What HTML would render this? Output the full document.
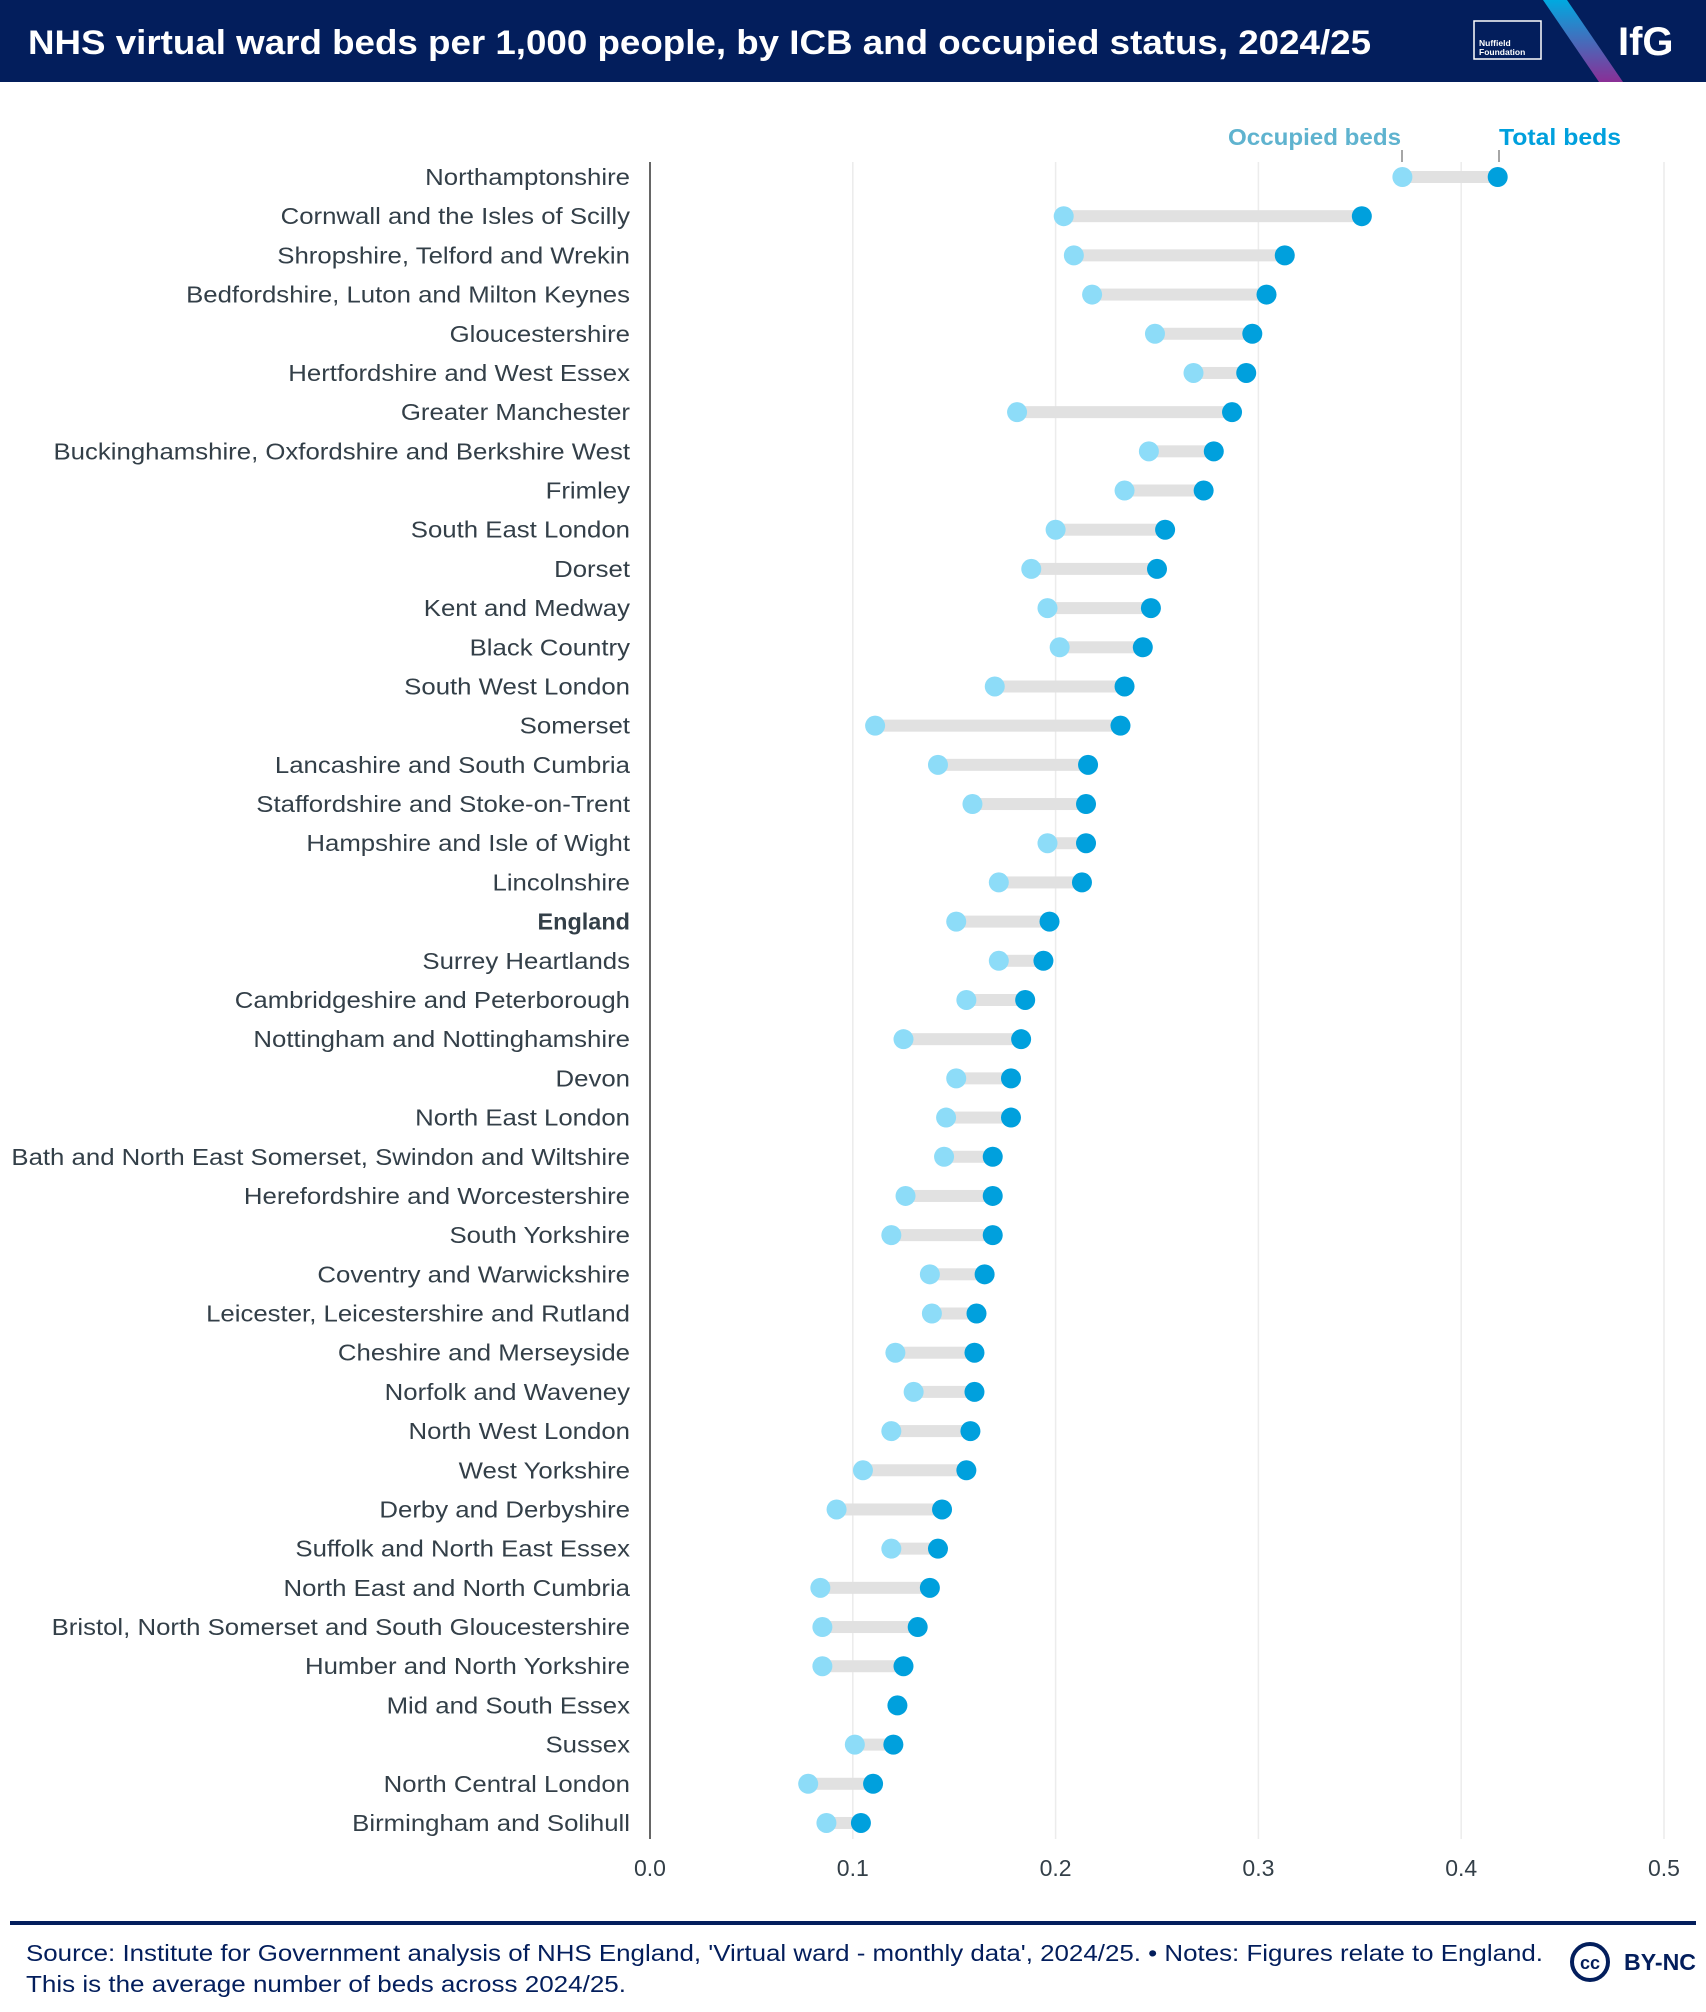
<!DOCTYPE html>
<html><head><meta charset="utf-8"><style>
html,body{margin:0;padding:0;background:#fff}
svg{display:block;font-family:"Liberation Sans","DejaVu Sans",sans-serif}
</style></head><body>
<svg id="chart" width="1706" height="2012" viewBox="0 0 1706 2012" xmlns="http://www.w3.org/2000/svg">
<defs><linearGradient id="stripe" x1="0" y1="0" x2="0" y2="1"><stop offset="0" stop-color="#00a9e0"/><stop offset="1" stop-color="#8a2f96"/></linearGradient></defs>
<rect x="0" y="0" width="1706" height="82" fill="#031e5c"/>
<text x="28" y="54" fill="#fff" font-size="34" font-weight="bold" textLength="1343" lengthAdjust="spacingAndGlyphs">NHS virtual ward beds per 1,000 people, by ICB and occupied status, 2024/25</text>
<g>
<rect x="1474" y="21" width="67" height="38" fill="none" stroke="#fff" stroke-width="1.5"/>
<text x="1479" y="46" fill="#fff" font-size="8.5" font-weight="bold">Nuffield</text>
<text x="1479" y="55" fill="#fff" font-size="8.5" font-weight="bold">Foundation</text>
</g>
<polygon points="1543,0 1567,0 1623,82 1599,82" fill="url(#stripe)"/>
<text x="1618" y="55" fill="#fff" font-size="40" font-weight="bold">IfG</text>
<text x="1401" y="145" text-anchor="end" fill="#5fb3cf" font-size="23" font-weight="bold" textLength="173" lengthAdjust="spacingAndGlyphs">Occupied beds</text>
<line x1="1402" y1="150" x2="1402" y2="162" stroke="#888" stroke-width="1.5"/>
<text x="1499" y="145" fill="#00a0dd" font-size="23" font-weight="bold" textLength="122" lengthAdjust="spacingAndGlyphs">Total beds</text>
<line x1="1499" y1="150" x2="1499" y2="162" stroke="#888" stroke-width="1.5"/>
<g id="grid"></g><g id="rows"></g><g id="xticks"></g>
<line x1="650" y1="162" x2="650" y2="1839" stroke="#333" stroke-width="1.5"/>
<rect x="10" y="1921" width="1686" height="4" fill="#031e5c"/>
<text x="26" y="1961" fill="#031e5c" font-size="23" textLength="1517" lengthAdjust="spacingAndGlyphs">Source: Institute for Government analysis of NHS England, 'Virtual ward - monthly data', 2024/25. • Notes: Figures relate to England.</text>
<text x="26" y="1992" fill="#031e5c" font-size="23" textLength="600" lengthAdjust="spacingAndGlyphs">This is the average number of beds across 2024/25.</text>
<g>
<circle cx="1590" cy="1962" r="18" fill="none" stroke="#031e5c" stroke-width="4"/>
<text x="1590" y="1969" text-anchor="middle" fill="#031e5c" font-size="18" font-weight="bold">cc</text>
<text x="1624" y="1970" fill="#031e5c" font-size="23" font-weight="bold" textLength="72" lengthAdjust="spacingAndGlyphs">BY-NC</text>
</g>
</svg>
<script>
const categories=["Northamptonshire","Cornwall and the Isles of Scilly","Shropshire, Telford and Wrekin","Bedfordshire, Luton and Milton Keynes","Gloucestershire","Hertfordshire and West Essex","Greater Manchester","Buckinghamshire, Oxfordshire and Berkshire West","Frimley","South East London","Dorset","Kent and Medway","Black Country","South West London","Somerset","Lancashire and South Cumbria","Staffordshire and Stoke-on-Trent","Hampshire and Isle of Wight","Lincolnshire","England","Surrey Heartlands","Cambridgeshire and Peterborough","Nottingham and Nottinghamshire","Devon","North East London","Bath and North East Somerset, Swindon and Wiltshire","Herefordshire and Worcestershire","South Yorkshire","Coventry and Warwickshire","Leicester, Leicestershire and Rutland","Cheshire and Merseyside","Norfolk and Waveney","North West London","West Yorkshire","Derby and Derbyshire","Suffolk and North East Essex","North East and North Cumbria","Bristol, North Somerset and South Gloucestershire","Humber and North Yorkshire","Mid and South Essex","Sussex","North Central London","Birmingham and Solihull"];
const occupied=[0.371,0.204,0.209,0.218,0.249,0.268,0.181,0.246,0.234,0.200,0.188,0.196,0.202,0.170,0.111,0.142,0.159,0.196,0.172,0.151,0.172,0.156,0.125,0.151,0.146,0.145,0.126,0.119,0.138,0.139,0.121,0.130,0.119,0.105,0.092,0.119,0.084,0.085,0.085,null,0.101,0.078,0.087];
const total=[0.418,0.351,0.313,0.304,0.297,0.294,0.287,0.278,0.273,0.254,0.250,0.247,0.243,0.234,0.232,0.216,0.215,0.215,0.213,0.197,0.194,0.185,0.183,0.178,0.178,0.169,0.169,0.169,0.165,0.161,0.160,0.160,0.158,0.156,0.144,0.142,0.138,0.132,0.125,0.122,0.120,0.110,0.104];
const ticks=[0,0.1,0.2,0.3,0.4,0.5];
const tickLabels=["0.0","0.1","0.2","0.3","0.4","0.5"];
const NS="http://www.w3.org/2000/svg";
const xScale=v=>650+v*2028;
const yScale=i=>177+i*39.19;
function mk(tag,attrs,parent){const e=document.createElementNS(NS,tag);for(const k in attrs)e.setAttribute(k,attrs[k]);parent.appendChild(e);return e;}
const grid=document.getElementById('grid'),rows=document.getElementById('rows'),xt=document.getElementById('xticks');
ticks.forEach((t,i)=>{
  if(i>0){const g=mk('line',{x1:xScale(t),x2:xScale(t),y1:162,y2:1839,stroke:'#ececec','stroke-width':1.5},grid);
  
  }
  const l=mk('text',{x:xScale(t),y:1876,'text-anchor':'middle','font-size':23,fill:'#333f48'},xt);
  l.textContent=tickLabels[i];
  
  
});
categories.forEach((c,i)=>{
  const y=yScale(i);
  const t=mk('text',{x:630,y:y+8,'text-anchor':'end','font-size':23,fill:'#333f48','font-weight':c==='England'?'bold':'normal'},rows);
  t.textContent=c;
  
  
  const w=t.getComputedTextLength();
  if(w>0){t.setAttribute('textLength',(w*(c==='England'?1.02:1.12)).toFixed(1));t.setAttribute('lengthAdjust','spacingAndGlyphs');}
  const o=occupied[i],tv=total[i];
  if(o!==null){
    const b=mk('rect',{x:xScale(o),y:y-6,width:xScale(tv)-xScale(o),height:12,fill:'#e1e1e1'},rows);
    
    
    const d=mk('circle',{cx:xScale(o),cy:y,r:10,fill:'#8ddcf8'},rows);
    
    
  }
  const d2=mk('circle',{cx:xScale(tv),cy:y,r:10,fill:'#00a0dd'},rows);
  
  
});
</script>
</body></html>
